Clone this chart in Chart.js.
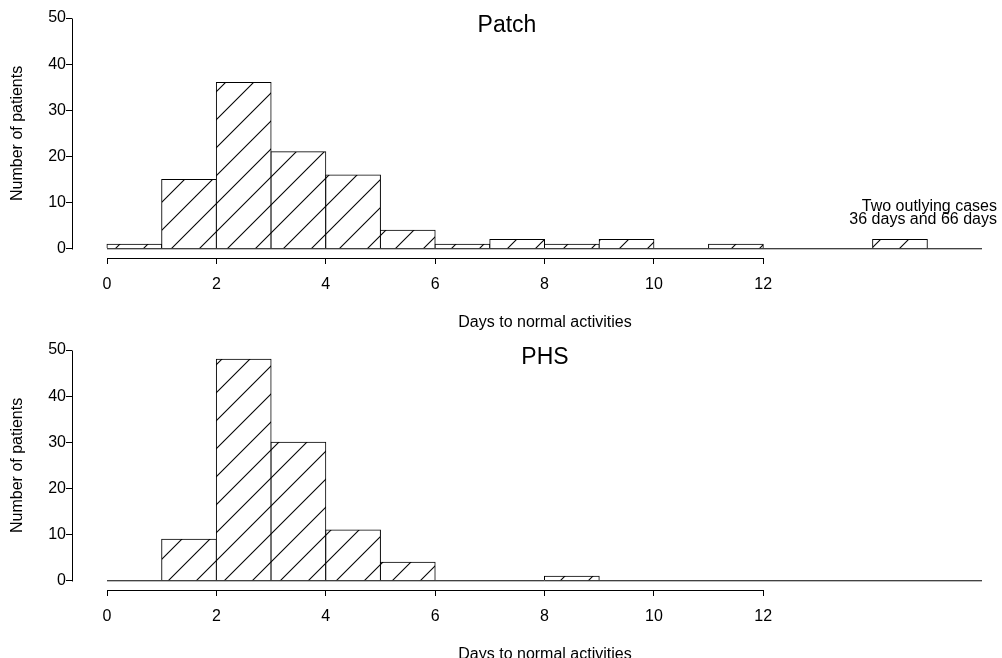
<!DOCTYPE html>
<html><head><meta charset="utf-8">
<script src="https://cdn.jsdelivr.net/npm/chart.js@4.4.1/dist/chart.umd.min.js"></script>
<style>
html,body{margin:0;padding:0;background:#fff;width:1002px;height:658px;overflow:hidden}
#c1{position:absolute;left:0;top:0}
#c2{position:absolute;left:0;top:329px}
</style>
</head><body>
<canvas id="c1" width="1002" height="340"></canvas>
<canvas id="c2" width="1002" height="329"></canvas>
<script>
// ---- data ----
const binStarts   = [0, 1, 2, 3, 4, 5, 6, 7, 8, 9, 10, 11, 12, 13, 14];
const patchCounts = [1, 15, 36, 21, 16, 4, 1, 2, 1, 2, 0, 1, 0, 0, 2];
const phsCounts   = [0, 9, 48, 30, 11, 4, 0, 0, 1, 0, 0, 0, 0, 0, 0];
const xTicks = [0, 2, 4, 6, 8, 10, 12];
const yTicks = [0, 10, 20, 30, 40, 50];
const xRange = [0, 16];
const panelTitles = ['Patch', 'PHS'];
const xTitle = 'Days to normal activities';
const yTitle = 'Number of patients';
const outlierNote = ['Two outlying cases', '36 days and 66 days'];

const FONT = "'Liberation Sans', Arial, Helvetica, sans-serif";

function hatchPattern(ctx) {
  const s = 28, c = document.createElement('canvas');
  c.width = s; c.height = s;
  const g = c.getContext('2d');
  g.fillStyle = '#fff'; g.fillRect(0, 0, s, s);
  g.strokeStyle = '#000'; g.lineWidth = 1.1;
  g.beginPath(); g.moveTo(-3, s + 3); g.lineTo(s + 3, -3); g.stroke();
  g.beginPath(); g.moveTo(-3, 3); g.lineTo(3, -3); g.stroke();
  g.beginPath(); g.moveTo(s - 3, s + 3); g.lineTo(s + 3, s - 3); g.stroke();
  return ctx.createPattern(c, 'repeat');
}

const axesPlugin = {
  id: 'rAxes',
  afterDraw(chart, args, opts) {
    const {ctx, chartArea, scales: {x, y}} = chart;
    ctx.save();
    ctx.strokeStyle = '#000'; ctx.lineWidth = 1;
    const ax = Math.round(chartArea.left) + 0.5;
    ctx.beginPath();
    ctx.moveTo(ax, Math.round(y.getPixelForValue(yTicks[0])) + 0.5);
    ctx.lineTo(ax, Math.round(y.getPixelForValue(yTicks[yTicks.length - 1])) + 0.5);
    ctx.stroke();
    const ay = Math.round(chartArea.bottom) + 0.5;
    ctx.beginPath();
    ctx.moveTo(Math.round(x.getPixelForValue(xTicks[0])) + 0.5, ay);
    ctx.lineTo(Math.round(x.getPixelForValue(xTicks[xTicks.length - 1])) + 0.5, ay);
    ctx.stroke();
    ctx.fillStyle = '#000';
    ctx.textAlign = 'center';
    ctx.textBaseline = 'alphabetic';
    ctx.font = '23px ' + FONT;
    ctx.fillText(opts.title, opts.titleX, y.getPixelForValue(yTicks[yTicks.length - 1]) + 14);
    ctx.font = '16px ' + FONT;
    ctx.fillText(xTitle, 545, chartArea.bottom + 69);
    ctx.save();
    const yc = (y.getPixelForValue(yTicks[0]) + y.getPixelForValue(yTicks[yTicks.length - 1])) / 2;
    ctx.translate(18, yc);
    ctx.rotate(-Math.PI / 2);
    ctx.textBaseline = 'middle';
    ctx.fillText(yTitle, 0, 0);
    ctx.restore();
    if (opts.note) {
      ctx.textAlign = 'right';
      ctx.font = '16px ' + FONT;
      const y0 = y.getPixelForValue(0);
      ctx.fillText(opts.note[0], 997, y0 - 38);
      ctx.fillText(opts.note[1], 997, y0 - 25);
    }
    ctx.restore();
  }
};

function makeChart(id, counts, title, titleX, note, padTop, padBottom) {
  const canvas = document.getElementById(id);
  const ctx = canvas.getContext('2d');
  const bars = [];
  binStarts.forEach((b, i) => { if (counts[i] > 0) bars.push({x: b + 0.5, y: counts[i]}); });
  return new Chart(ctx, {
    type: 'bar',
    data: {
      datasets: [
        {type: 'line', data: [{x: xRange[0], y: 0}, {x: xRange[1], y: 0}],
         borderColor: '#000', borderWidth: 1, pointRadius: 0, order: 0},
        {type: 'bar', data: bars, backgroundColor: hatchPattern(ctx),
         borderColor: '#000', borderWidth: 1, barPercentage: 1, categoryPercentage: 1,
         inflateAmount: 0.5, order: 1}
      ]
    },
    options: {
      responsive: false, animation: false, devicePixelRatio: 1,
      layout: {padding: {left: 0, right: 20, top: padTop, bottom: padBottom}},
      plugins: {legend: {display: false}, tooltip: {enabled: false}, title: {display: false},
                rAxes: {title: title, titleX: titleX, note: note}},
      scales: {
        x: {
          type: 'linear', min: -0.64, max: xRange[1], offset: false,
          afterBuildTicks: s => { s.ticks = xTicks.map(v => ({value: v})); },
          afterFit: s => { s.height = 40; },
          grid: {offset: false, drawOnChartArea: false, drawTicks: true, tickLength: 6, color: '#000', lineWidth: 1},
          border: {display: false},
          ticks: {color: '#000', font: {family: FONT, size: 16}, padding: 11,
                  autoSkip: false, maxRotation: 0, callback: v => String(v)}
        },
        y: {
          min: -2, max: yTicks[yTicks.length - 1],
          afterBuildTicks: s => { s.ticks = yTicks.map(v => ({value: v})); },
          afterFit: s => { s.width = 72; },
          grid: {drawOnChartArea: false, drawTicks: true, tickLength: 6, color: '#000', lineWidth: 1},
          border: {display: false},
          ticks: {color: '#000', font: {family: FONT, size: 16}, padding: 0,
                  callback: v => String(v)}
        }
      }
    },
    plugins: [axesPlugin]
  });
}

makeChart('c1', patchCounts, panelTitles[0], 507, outlierNote, 18, 42);
makeChart('c2', phsCounts, panelTitles[1], 545, null, 21, 28);
</script>
</body></html>
